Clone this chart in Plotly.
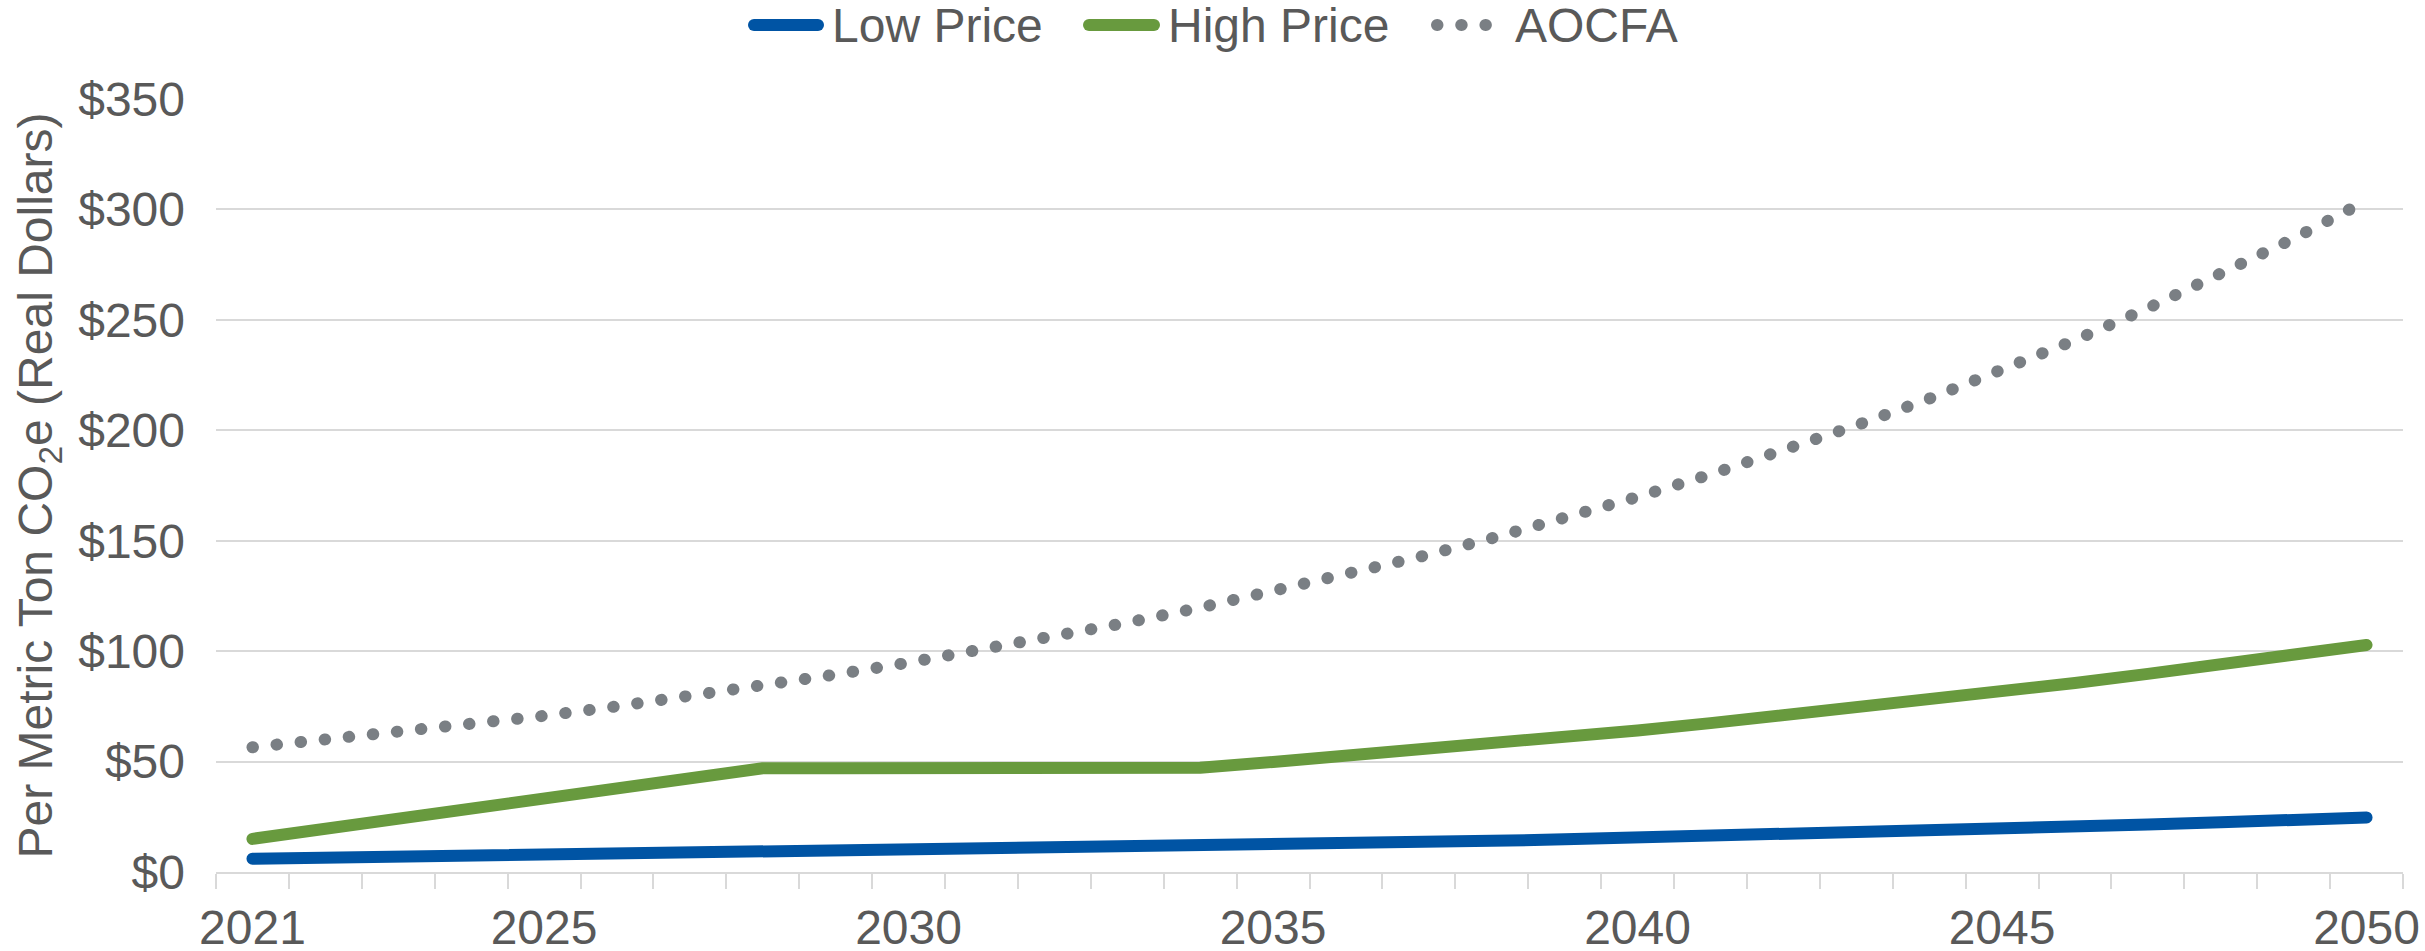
import plotly.graph_objects as go

years = list(range(2021, 2051))

low_price = [6.0, 6.4, 6.8, 7.2, 7.6, 8.0, 8.4, 8.8, 9.2, 9.7,
             10.2, 10.7, 11.2, 11.7, 12.3, 12.9, 13.5, 14.1, 14.8, 15.5,
             16.2, 17.0, 17.8, 18.7, 19.6, 20.5, 21.5, 22.5, 23.6, 24.7]

high_price = [15.0, 19.6, 24.2, 28.8, 33.4, 38.0, 42.5, 47.0, 47.0, 47.0,
              47.0, 47.0, 47.0, 47.2, 49.8, 52.5, 55.2, 58.0, 61.0, 64.1,
              67.4, 70.8, 74.3, 77.9, 81.7, 85.6, 89.7, 93.9, 98.3, 102.8]

aocfa = [56.5, 59.8, 63.2, 66.8, 70.7, 75.0, 79.5, 84.3, 89.4, 94.8,
         100.5, 106.5, 112.9, 119.7, 126.9, 134.5, 142.6, 151.1, 160.2, 169.8,
         180.0, 190.8, 202.2, 214.3, 227.2, 240.8, 255.3, 270.6, 286.8, 304.0]

x_label_years = [2021, 2025, 2030, 2035, 2040, 2045, 2050]
y_tick_values = [0, 50, 100, 150, 200, 250, 300, 350]
y_tick_labels = ["$0", "$50", "$100", "$150", "$200", "$250", "$300", "$350"]

series_names = ["Low Price", "High Price", "AOCFA"]

BLUE = "#0054A4"
GREEN = "#689A3E"
GREY_DOT = "#7A7F84"
TEXT = "#595959"
GRID = "#D9D9D9"
FONT = "Liberation Sans, Arial, sans-serif"
LINE_W = 12
DOT_DASH = "0.5px,23.7px"

W, H = 2425, 951
ML, MR, MT, MB = 216, 22, 99, 79
PW, PH = W - ML - MR, H - MT - MB


def px_x(px):
    return (px - ML) / PW


def px_y(py):
    return (H - MB - py) / PH


fig = go.Figure()
fig.add_trace(go.Scatter(x=years, y=low_price, name=series_names[0], mode="lines",
                         line=dict(color=BLUE, width=LINE_W)))
fig.add_trace(go.Scatter(x=years, y=high_price, name=series_names[1], mode="lines",
                         line=dict(color=GREEN, width=LINE_W)))
fig.add_trace(go.Scatter(x=years, y=aocfa, name=series_names[2], mode="lines",
                         line=dict(color=GREY_DOT, width=LINE_W, dash=DOT_DASH)))

# legend drawn across the top
leg_y = px_y(25)
legend_items = [
    (series_names[0], dict(color=BLUE, width=LINE_W), 754, 818, 830),
    (series_names[1], dict(color=GREEN, width=LINE_W), 1089, 1154, 1166),
    (series_names[2], dict(color=GREY_DOT, width=LINE_W, dash=DOT_DASH), 1437, 1488, 1513),
]
shapes = []
annotations = []
for name, ln, x0, x1, tx in legend_items:
    shapes.append(dict(type="line", xref="paper", yref="paper",
                       x0=px_x(x0), x1=px_x(x1), y0=leg_y, y1=leg_y, line=ln))
    annotations.append(dict(text=name, xref="paper", yref="paper", x=px_x(tx), y=leg_y,
                            xanchor="left", yanchor="middle", showarrow=False,
                            font=dict(size=48, color=TEXT, family=FONT)))

fig.update_layout(
    width=W, height=H,
    margin=dict(l=ML, r=MR, t=MT, b=MB, autoexpand=False),
    paper_bgcolor="white", plot_bgcolor="white",
    showlegend=False,
    font=dict(family=FONT, size=48, color=TEXT),
    shapes=shapes, annotations=annotations,
    hovermode=False,
)

fig.update_xaxes(
    range=[2020.5, 2050.5], tickmode="array", tickvals=x_label_years,
    ticktext=[str(y) for y in x_label_years], ticks="", showgrid=False,
    showline=True, linecolor=GRID, linewidth=2, zeroline=False, automargin=False,
    tickfont=dict(size=48, color=TEXT, family=FONT), ticklabelstandoff=12,
    minor=dict(ticks="outside", tick0=2020.5, dtick=1, ticklen=15,
               tickcolor=GRID, tickwidth=2, showgrid=False),
)

fig.update_yaxes(
    range=[0, 350], tickmode="array", tickvals=y_tick_values, ticktext=y_tick_labels,
    ticks="", showgrid=True, gridcolor=GRID, gridwidth=2, zeroline=False,
    showline=False, automargin=False, tickfont=dict(size=48, color=TEXT, family=FONT),
    ticklabelstandoff=30,
    title=dict(text="Per Metric Ton CO<sub>2</sub>e (Real Dollars)",
               font=dict(size=48, color=TEXT, family=FONT), standoff=10),
)

post = """
(function(){
  function roundCaps(){
    document.querySelectorAll('.scatterlayer path.js-line, .shapelayer path').forEach(function(p){
      p.style.strokeLinecap = 'round';
      p.style.strokeLinejoin = 'round';
    });
  }
  var gd = document.getElementById('{plot_id}');
  roundCaps();
  if (gd && gd.on) gd.on('plotly_afterplot', roundCaps);
  setTimeout(roundCaps, 50);
  setTimeout(roundCaps, 400);
})();
"""

fig.write_html("out.html", post_script=post)
